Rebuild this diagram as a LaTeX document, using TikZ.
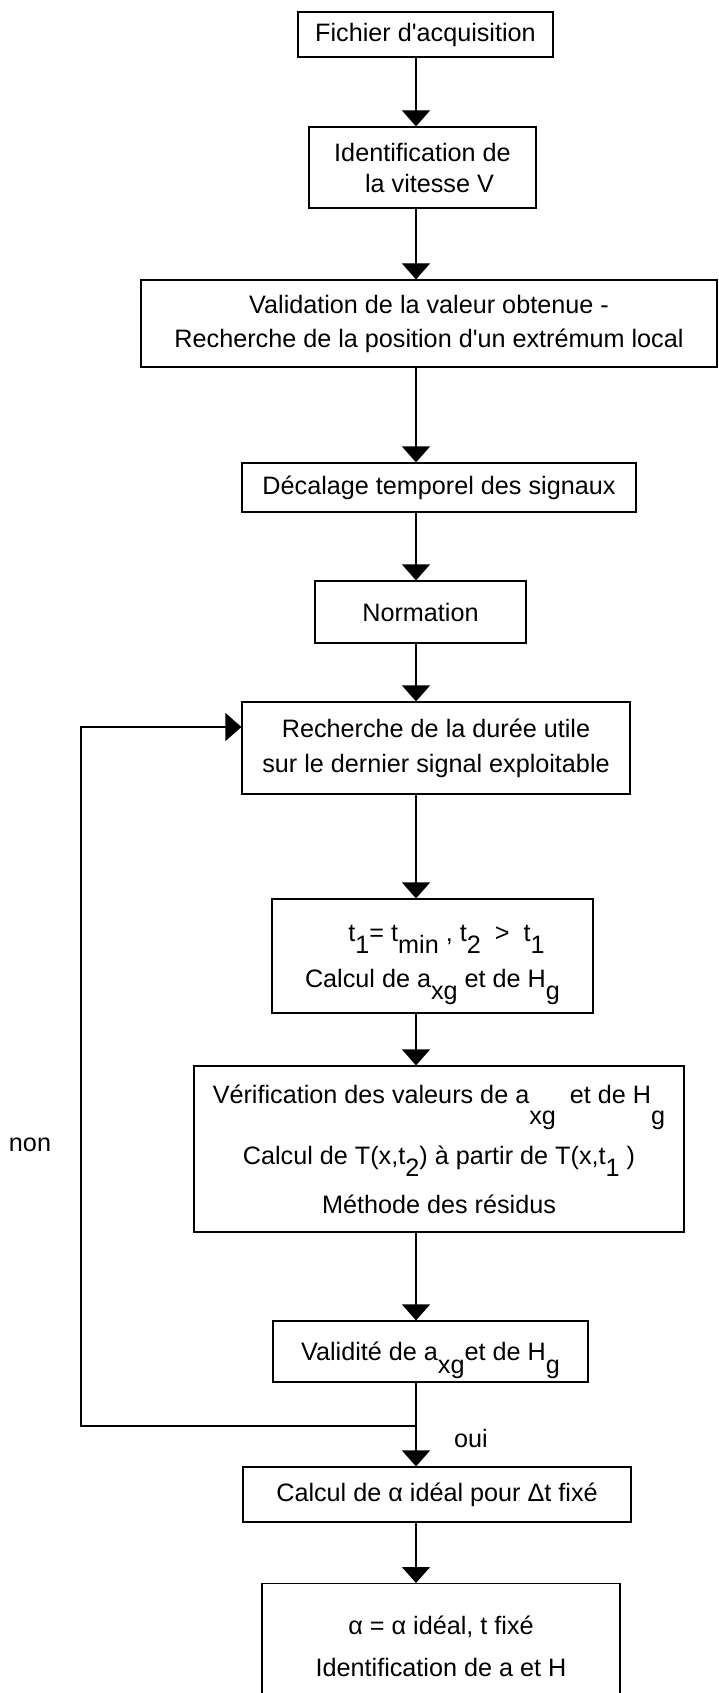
\documentclass[tikz,border=0pt]{standalone}
\usepackage{fontspec}
\setmainfont{Liberation Sans}[Ligatures=TeXOff]
\usetikzlibrary{arrows.meta}
\newcommand\dn[1]{\smash{\raisebox{-0.5em}{#1}}}
\newcommand\dnb[1]{\smash{\raisebox{-0.85em}{#1}}}
\tikzset{
  box/.style={draw, line width=1.2pt, inner sep=0pt, align=center,
    font=\fontsize{25.2}{31}\selectfont},
  lbl/.style={inner sep=0pt, font=\fontsize{25.2}{31}\selectfont},
  arr/.style={-{Triangle[width=28pt,length=16pt]}, line width=1.2pt},
  lin/.style={line width=1.2pt}
}
\begin{document}
\begin{tikzpicture}[x=1pt,y=-1pt]
\useasboundingbox (0,0) rectangle (719,1693);
\coordinate (ax) at (416,0);
\node[box, minimum width=255pt, minimum height=45pt] (b1) at (425.5,34.5) {Fichier d'acquisition};
\node[box, minimum width=227pt, minimum height=81pt] (b2) at (422.5,167.5) {Identification de\\\ \ la vitesse V};
\node[box, minimum width=576pt, minimum height=87pt] (b3) at (429,323.5) {Validation de la valeur obtenue -\\[3pt]Recherche de la position d'un extrémum local};
\node[box, minimum width=394pt, minimum height=49pt] (b4) at (439,487.5) {Décalage temporel des signaux};
\node[box, minimum width=211pt, minimum height=62pt] (b5) at (420.5,612) {Normation};
\node[box, minimum width=388pt, minimum height=92pt] (b6) at (436,748) {Recherche de la durée utile\\[4pt]sur le dernier signal exploitable};
\node[box, minimum width=321pt, minimum height=114pt] (b7) at (432.5,956) {\hspace*{28pt}t\dn{1}= t\dn{min} , t\dn{2} \ >\ \ t\dn{1}\\[15pt]Calcul de a\dn{xg} et de H\dn{g}};
\node[box, minimum width=490pt, minimum height=166pt] (b8) at (439,1149) {Vérification des valeurs de a\dnb{xg} \ et de H\dnb{g}\\[30pt]Calcul de T(x,t\dn{2}) à partir de T(x,t\dn{1} )\\[18pt]Méthode des résidus};
\node[box, minimum width=315pt, minimum height=61pt] (b9) at (430.5,1351.5) {Validité de a\dn{xg}et de H\dn{g}};
\node[box, minimum width=388pt, minimum height=55pt] (b10) at (437,1494.5) {Calcul de α idéal pour Δt fixé};
\node[box, minimum width=358pt, minimum height=134pt, anchor=north] (b11) at (441,1583) {\\[-20pt]α = α idéal, t fixé\\[11pt]Identification de a et H};
\node[lbl] (non) at (30,1145) {non};
\node[lbl] (oui) at (471,1438) {oui};
\draw[arr] (b1.south -| ax) -- (b2.north -| ax);
\draw[arr] (b2.south -| ax) -- (b3.north -| ax);
\draw[arr] (b3.south -| ax) -- (b4.north -| ax);
\draw[arr] (b4.south -| ax) -- (b5.north -| ax);
\draw[arr] (b5.south -| ax) -- (b6.north -| ax);
\draw[arr] (b6.south -| ax) -- (b7.north -| ax);
\draw[arr] (b7.south -| ax) -- (b8.north -| ax);
\draw[arr] (b8.south -| ax) -- (b9.north -| ax);
\draw[arr] (b9.south -| ax) -- (b10.north -| ax);
\draw[arr] (b10.south -| ax) -- (b11.north -| ax);
\coordinate (jn) at (416,1426);
\coordinate (lb) at (81,1426);
\coordinate (lt) at (81,727);
\draw[arr] (jn) -- (lb) -- (lt) -- (lt -| b6.west);
\end{tikzpicture}
\end{document}
